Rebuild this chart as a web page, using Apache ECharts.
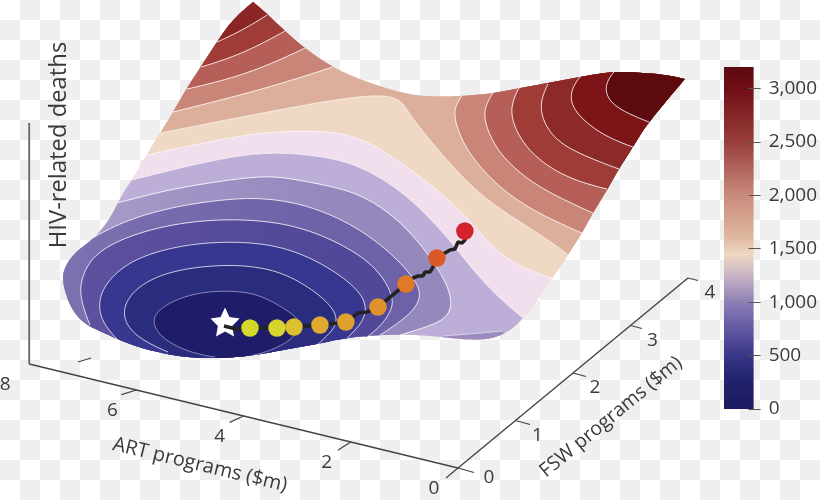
<!DOCTYPE html>
<html><head><meta charset="utf-8">
<style>
html,body{margin:0;padding:0;width:820px;height:500px;overflow:hidden;
background:conic-gradient(#efefef 25%,#fff 0 50%,#efefef 0 75%,#fff 0) 0 0/40px 40px;}
#c{width:820px;height:500px;}
</style>
<script src="https://cdn.jsdelivr.net/npm/echarts@6/dist/echarts.min.js"></script>
</head><body><div id="c"></div>
<script>
// ---- axis ticks
const artTicks = [0,2,4,6,8];
const fswTicks = [0,1,2,3,4];
const colorbarTicks = [0,500,1000,1500,2000,2500,3000];
const colorbarMax = 3200;
const colorbarStops = [[0,'#1c1a60'],[300,'#24246f'],[500,'#3a3688'],[800,'#6a60a8'],[1000,'#8d7fb5'],[1250,'#c9b5c6'],[1450,'#eed8c0'],[1600,'#e0b8a2'],[2000,'#c98a7c'],[2500,'#983e3a'],[3000,'#700e15'],[3200,'#5a0a10']];
// ---- optimisation path: [ART $m, FSW $m, deaths]
const optimum = [5.80,1.355,100];
const budgetSteps = [[5.28,1.304,150],[4.88,1.401,160],[4.62,1.454,190],[4.16,1.477,300],[3.73,1.527,400],[3.31,1.694,600],[3.09,1.975,800],[2.88,2.318,1000],[2.73,2.664,1200]];
const budgetColors = ['#d6d829','#d8d42e','#dcc02f','#e0a82e','#e0a02e','#e0922c','#e07a26','#d95a26','#d3222d'];
const pathTrace = [[5.745,1.286,100],[5.50,1.264,120],[5.28,1.304,150],[4.88,1.401,160],[4.62,1.454,190],[4.16,1.477,300],[3.73,1.527,400],[3.66,1.586,450],[3.625,1.64,480],[3.447,1.63,540],[3.31,1.694,600],[3.09,1.975,800],[3.06,2.07,830],[2.99,2.092,860],[2.897,2.091,880],[2.916,2.144,900],[2.822,2.143,920],[2.822,2.196,960],[2.88,2.318,1000],[2.763,2.349,1080],[2.721,2.397,1100],[2.645,2.413,1120],[2.69,2.508,1150],[2.605,2.498,1160],[2.592,2.538,1180],[2.73,2.664,1200]];
// ---- surface silhouette, in the picture plane of the 3D view
const upperEdge = [[253,2],[266,13],[285,31],[305,48],[333,67],[365,81],[400,92],[425,96],[460,96],[493,93],[520,88],[548,83],[580,77],[613,72],[643,73],[665,75],[685,79]];
const lowerEdge = [[685,79],[649,122],[633,147],[619,169],[607,190],[593,213],[582,233],[568,255],[552,278],[537,300],[523,318],[510,330],[493,338],[473,339.5],[450,338],[420,335],[383,335],[347,338],[317,344],[283,350],[255,355],[220,358],[187,357],[162,353],[132,345],[102,332],[83,322],[70,305],[63,282],[65,268],[75,253],[95,237],[110,218],[122,195],[132,180],[147,155],[160,133],[173,112],[187,88],[202,65],[217,42],[233,20],[253,2]];
// ---- contour lines
const leftRidge1 = [[333,67],[283,83],[233,97],[173,112]];
const leftRidge2 = [[305,48],[273,63],[233,78],[187,89]];
const leftRidge3 = [[285,31],[263,43],[233,57],[201,67]];
const leftRidge4 = [[267,15],[243,30],[217,42]];
const rightRidge1 = [[582,233],[537,213],[503,190],[480,167],[463,143],[455,120],[455,107],[462,96]];
const rightRidge2 = [[593,213],[543,190],[517,170],[497,150],[485,123],[485,107],[493,93]];
const rightRidge3 = [[607,189],[573,180],[543,163],[523,143],[512,120],[512,103],[519,88]];
const rightRidge4 = [[619,169],[577,153],[553,137],[542,117],[541,100],[548,84]];
const rightRidge5 = [[633,147],[607,137],[587,123],[572,107],[571,90],[580,77]];
const rightRidge6 = [[649,122],[620,110],[607,97],[606,83],[614,72]];
const basin1 = [[160,133],[267,112],[333,100],[367,96],[390,96],[403,103],[410,115],[430,140],[453,167],[483,197],[517,220],[553,243],[568,255]];
const basin2 = [[147,155],[217,140],[267,132],[317,131],[350,135],[377,147],[410,169],[437,190],[467,217],[493,248],[520,267],[552,278]];
const basin3 = [[132,180],[200,163],[250,154],[287,153],[333,158],[367,170],[407,195],[445,235],[463,257],[490,290],[523,318]];
const basin4 = [[117,203],[148,195],[183,187],[250,177],[283,177],[333,187],[360,195],[393,215],[423,247],[447,283],[452,307],[443,320],[423,328],[400,335]];
const basinSliver = [[443,336],[470,334],[503,331]];
const basin5 = [[93,238],[122,222],[172,207],[222,200],[255,198],[300,203],[350,223],[390,252],[417,282],[420,298],[410,315],[380,335]];
const basin6 = [[90,325],[80,298],[82,278],[92,258],[115,242],[155,228],[205,220],[255,220],[300,227],[343,245],[377,268],[392,295],[392,308],[382,325],[367,337]];
const basin7 = [[118,340],[102,322],[99,303],[105,285],[125,265],[155,252],[198,243],[250,242],[293,250],[333,270],[360,292],[366,308],[362,323],[347,338]];
const basin8 = [[168,352],[148,343],[130,330],[123,313],[130,295],[152,278],[188,268],[228,265],[255,267],[283,273],[313,290],[333,308],[337,322],[330,333],[318,344]];
const basin9 = [[215,357],[188,352],[162,338],[153,323],[158,310],[182,297],[212,291],[250,292],[273,302],[297,317],[300,327],[293,338],[273,350],[250,356]];
const strayTick = [[78,362],[91,358]];

// painter's order: [contour, fill, line opacity]
const layers = [
 [leftRidge1,'#c98678',.85],[leftRidge2,'#b55f58',.85],[leftRidge3,'#a03c38',.85],[leftRidge4,'#8b2626',.85],
 [rightRidge1,'#c98678',.85],[rightRidge2,'#b55f58',.85],[rightRidge3,'#a03c38',.85],[rightRidge4,'#8c2a2a',.85],[rightRidge5,'#7d1518',.85],[rightRidge6,'#5d0a0f',.85],
 [basin1,'#efd9c4',.6],[basin2,'#f2dfee',.6],[basin3,'#bcaed6',.6],[basin4,['#ab9dcb','#9488bd'],.85],[basinSliver,'#9b8cc0',.5],[basin5,['#7d71b0','#6d61a8'],.8],[basin6,['#5c529f','#524899'],.8],[basin7,'#38378f',.75],[basin8,'#2a2c7e',.75],[basin9,'#1f1c6a',.45]
];
const baseFill = '#dcae9c';

// 3D view: ART, FSW, deaths -> picture plane
function project(a,f,z){ return [458-53.6*a+57.5*f, 468-13*a-47.5*f-0.0625*z]; }

function spline(pts){
  const out=[], n=pts.length, S=8;
  for(let i=0;i<n-1;i++){
    const p0=pts[Math.max(i-1,0)],p1=pts[i],p2=pts[i+1],p3=pts[Math.min(i+2,n-1)];
    for(let s=0;s<S;s++){
      const t=s/S,t2=t*t,t3=t2*t;
      out.push([0,1].map(k=>0.5*(2*p1[k]+(p2[k]-p0[k])*t+(2*p0[k]-5*p1[k]+4*p2[k]-p3[k])*t2+(3*p1[k]-p0[k]-3*p2[k]+p3[k])*t3)));
    }
  }
  out.push(pts[n-1].slice());
  return out;
}
function soften(pts,r){
  return pts.map((_,i)=>{
    const w=Math.min(r,i,pts.length-1-i); let x=0,y=0;
    for(let j=i-w;j<=i+w;j++){x+=pts[j][0];y+=pts[j][1];}
    return [x/(2*w+1),y/(2*w+1)];
  });
}
const curveOf = c => soften(soften(spline(c),4),4);
const loop = soften(spline(upperEdge),3).slice(0,-1).concat(soften(spline(lowerEdge),3).slice(0,-1));
function nearest(p){ let b=0,d=1e12; loop.forEach((q,i)=>{const e=(q[0]-p[0])**2+(q[1]-p[1])**2; if(e<d){d=e;b=i;}}); return b; }
function walk(from,to){ const r=[]; let i=nearest(from), j=nearest(to); while(i!==j){ r.push(loop[i]); i=(i+1)%loop.length; } r.push(loop[j]); return r; }

const chart = echarts.init(document.getElementById('c'),null,{renderer:'canvas'});
const FONT = '"Open Sans",sans-serif';
const INK = '#3a3a3a';
function text(api,p,str,size,rot){
  const c = api.coord(p);
  return {type:'text',x:c[0],y:c[1],rotation:(rot||0)*Math.PI/180,
    style:{text:str,x:0,y:0,fill:INK,font:size+'px '+FONT,align:'center',verticalAlign:'middle'}};
}
function seg(api,p,q,color,w){
  const a=api.coord(p),b=api.coord(q);
  return {type:'line',shape:{x1:a[0],y1:a[1],x2:b[0],y2:b[1]},style:{stroke:color,lineWidth:w}};
}
const planeAxes = {xAxisIndex:0,yAxisIndex:0,coordinateSystem:'cartesian2d'};
const fillOf = c => Array.isArray(c)
  ? new echarts.graphic.LinearGradient(60,0,330,0,[{offset:0,color:c[0]},{offset:1,color:c[1]}],true)
  : c;

chart.setOption({
  animation:false,
  backgroundColor:'transparent',
  grid:[{left:0,top:0,width:820,height:500},{left:724,top:67,width:31.5,height:342}],
  xAxis:[{type:'value',min:0,max:820,show:false},{type:'category',gridIndex:1,data:['deaths'],show:false}],
  yAxis:[{type:'value',min:0,max:500,inverse:true,show:false},
    {type:'value',gridIndex:1,min:0,max:colorbarMax,position:'right',offset:-5,z:10,
     axisLine:{show:false},splitLine:{show:false},
     axisTick:{show:true,length:12,lineStyle:{color:'#555',width:1},customValues:colorbarTicks},
     axisLabel:{show:true,margin:20,color:INK,fontFamily:'Open Sans',fontSize:19,customValues:colorbarTicks,
       formatter:v=>Number(v).toLocaleString('en-US')}}],
  series:[
   {type:'bar',xAxisIndex:1,yAxisIndex:1,barWidth:'100%',silent:true,data:[colorbarMax],
    itemStyle:{color:new echarts.graphic.LinearGradient(0,1,0,0,colorbarStops.map(s=>({offset:s[0]/colorbarMax,color:s[1]})))}},
   // axes
   {type:'custom',...planeAxes,silent:true,z:1,data:[[0,0]],
    renderItem:(p,api)=>{
      const kids=[];
      kids.push(seg(api,project(0,0,0),project(8,0,0),'#444',1.4));
      kids.push(seg(api,project(0,0,0),project(0,4,0),'#444',1.4));
      kids.push(seg(api,project(8,0,0),project(8,0,3856),'#666',1.8));
      artTicks.forEach(a=>{
        const q=project(a,0,0);
        if(a<8) kids.push(seg(api,q,[q[0]-12-a*0.5,q[1]+10-a*0.9],'#444',1.2));
        kids.push(text(api,[q[0]-24,q[1]+21],String(a),19));
      });
      fswTicks.forEach(f=>{
        const q=project(0,f,0);
        kids.push(seg(api,q,[q[0]+16-1.5*f,q[1]+4.5-0.5*f],'#444',1.2));
        const off=f===0?[31,10]:[22,15];
        kids.push(text(api,[q[0]+off[0],q[1]+off[1]],String(f),19));
      });
      kids.push(seg(api,strayTick[0],strayTick[1],'#444',1.2));
      kids.push(text(api,[59,145],'HIV-related deaths',23.8,90));
      kids.push(text(api,[200,465],'ART programs ($m)',20,-13.5));
      kids.push(text(api,[611,417],'FSW programs ($m)',19.5,39.6));
      return {type:'group',children:kids};
    }},
   // surface silhouette
   {type:'custom',...planeAxes,silent:true,z:2,data:[[0,0]],
    renderItem:(p,api)=>({type:'polygon',shape:{points:loop.map(q=>api.coord(q))},style:{fill:baseFill}})},
   // contour bands
   {type:'custom',...planeAxes,silent:true,z:2,data:layers.map((l,i)=>[i,0]),
    renderItem:(p,api)=>{
      const l=layers[api.value(0)];
      const curve=curveOf(l[0]);
      const outline=curve.concat(walk(curve[curve.length-1],curve[0]));
      return {type:'group',children:[
        {type:'polygon',shape:{points:outline.map(q=>api.coord(q))},style:{fill:fillOf(l[1])}},
        {type:'polyline',shape:{points:curve.map(q=>api.coord(q))},style:{fill:null,stroke:'rgba(255,255,255,'+l[2]+')',lineWidth:1}}
      ]};
    }},
   // optimum star
   {type:'scatter',...planeAxes,silent:true,z:3,symbol:'path://M0,-100 L29,-40 L95,-31 L47,15 L59,81 L0,50 L-59,81 L-47,15 L-95,-31 L-29,-40 Z',symbolSize:29,
    itemStyle:{color:'#fff',opacity:1},data:[project(...optimum)]},
   // trajectory line
   {type:'line',...planeAxes,silent:true,z:4,showSymbol:false,symbol:'none',smooth:false,
    lineStyle:{color:'#232323',width:3.6},data:pathTrace.map(t=>project(...t))},
   // budget steps
   {type:'scatter',...planeAxes,silent:true,z:5,symbol:'circle',symbolSize:17.5,
    data:budgetSteps.map((t,i)=>({value:project(...t),itemStyle:{color:budgetColors[i],opacity:1}}))}
  ]
});
</script></body></html>
